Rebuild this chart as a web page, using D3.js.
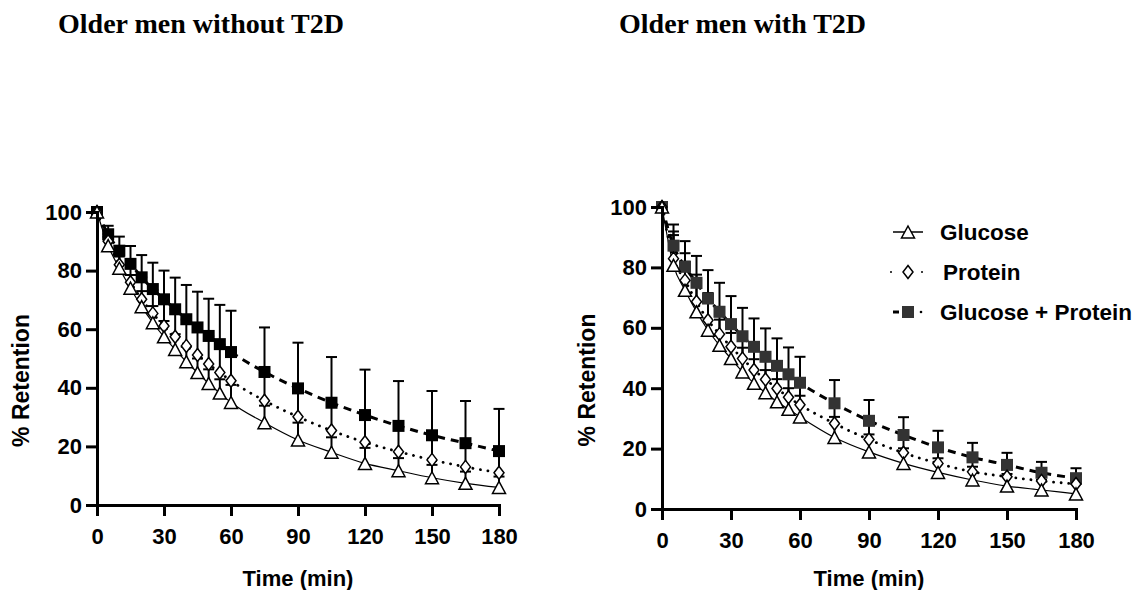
<!DOCTYPE html>
<html>
<head>
<meta charset="utf-8">
<script src="https://cdn.jsdelivr.net/npm/d3@7"></script>
<style>
  body { margin: 0; background: #fff; }
  svg { display: block; }
  .axis path, .axis line { stroke: #000; stroke-width: 3; }
  .axis text { font-family: "Liberation Sans", Arial, sans-serif; font-weight: bold; font-size: 22px; fill: #000; }
</style>
</head>
<body>
<div id="chart"></div>
<script>
'use strict';

// sampling times (min)
const times = [0, 5, 10, 15, 20, 25, 30, 35, 40, 45, 50, 55, 60, 75, 90, 105, 120, 135, 150, 165, 180];
const xTicks = [0, 30, 60, 90, 120, 150, 180];
const yTicks = [0, 20, 40, 60, 80, 100];
const seriesNames = ['Glucose', 'Protein', 'Glucose + Protein'];

// older men without T2D
const noT2dGlucose = [100, 88.5, 80.8, 74, 67.7, 62.2, 57.4, 53.1, 48.9, 45.2, 41.5, 38.2, 35, 28.1, 22.2, 18.0, 14.2, 11.7, 9.3, 7.4, 6.0];
const noT2dGlucoseSd = [0, 3, 4, 4.5, 5.3, 5.7, 5.4, 5.2, 5.1, 4.8, 4.8, 4.7, 6, 5.8, 5.9, 5.1, 5.3, 4.3, 4.4, 4.0, 3.7];
const noT2dProtein = [100, 90, 82, 76, 70.2, 65.4, 61.1, 57.4, 54.3, 51.2, 48.1, 45.2, 42.4, 35.6, 30.1, 25.4, 21.4, 18.2, 15.4, 13.0, 11.0];
const noT2dProteinSd = [0, 2.5, 4.5, 6, 7.5, 8, 9, 9.5, 9, 9.5, 9.5, 9.5, 9.5, 9.8, 9.7, 9.5, 9.3, 8.8, 8.4, 8.1, 7.4];
const noT2dBoth = [100, 92.4, 86.8, 82.3, 77.7, 73.7, 70.2, 66.8, 63.4, 60.6, 57.7, 54.9, 52.2, 45.4, 39.8, 34.9, 30.7, 27.0, 23.8, 21.1, 18.4];
const noT2dBothSd = [0, 2.9, 4.8, 6.1, 7.6, 9.0, 9.8, 10.8, 11.7, 12.2, 12.7, 13.4, 14.1, 15.2, 15.6, 15.6, 15.5, 15.3, 15.1, 14.4, 14.4];

// older men with T2D
const t2dGlucose = [100, 80.7, 72.4, 65.3, 59.2, 54.2, 49.8, 45.4, 41.6, 38.5, 35.5, 33, 30.5, 23.7, 18.9, 15.1, 12.1, 9.6, 7.6, 6.3, 5.0];
const t2dGlucoseSd = [0, 10, 9.5, 9.5, 9, 8.5, 8.5, 8, 8, 7.5, 7.5, 7, 7, 6.8, 5.8, 5.0, 4.7, 4.4, 4.0, 3.3, 3.3];
const t2dProtein = [100, 82.9, 75.7, 68.6, 62.5, 57.9, 53.7, 49.8, 46.0, 42.9, 39.9, 37, 34.5, 28.3, 23.0, 18.6, 15.1, 12.3, 10.7, 9.3, 8.3];
const t2dProteinSd = [0, 9, 9, 9, 9, 9, 9, 8.5, 8, 7.5, 7, 7, 6.5, 5.5, 5, 4.5, 4, 3.5, 3, 3, 2.5];
const t2dBoth = [100, 87.2, 80.2, 74.9, 69.7, 65.3, 61.2, 57.2, 53.7, 50.4, 47.4, 44.6, 41.8, 35.0, 29.2, 24.5, 20.4, 17.1, 14.6, 12.0, 10.2];
const t2dBothSd = [0, 7.0, 8.5, 8.9, 9.4, 9.6, 9.3, 9.4, 9.4, 9.4, 9.1, 8.9, 8.6, 7.7, 6.9, 5.9, 5.5, 4.8, 4.0, 3.6, 3.3];

const width = 1138, height = 590;
const svg = d3.select('#chart').append('svg').attr('width', width).attr('height', height);

const lineStyles = [
  { width: 1.2, dash: null, cap: 'butt' },
  { width: 2.8, dash: '0.1,7.5', cap: 'round' },
  { width: 3, dash: '8,6', cap: 'butt' },
];

function marker(g, kind, x, y, fill) {
  if (kind === 0) {
    g.append('path').attr('d', 'M0,-7L6.5,5L-6.5,5Z')
      .attr('transform', 'translate(' + x + ',' + (y + 1) + ')')
      .attr('fill', '#fff').attr('stroke', '#000').attr('stroke-width', 1.5);
  } else if (kind === 1) {
    g.append('path').attr('d', 'M0,-6.5L5,0L0,6.5L-5,0Z')
      .attr('transform', 'translate(' + x + ',' + y + ')')
      .attr('fill', '#fff').attr('stroke', '#000').attr('stroke-width', 1.5);
  } else {
    g.append('rect').attr('x', x - 6).attr('y', y - 6).attr('width', 12).attr('height', 12)
      .attr('fill', fill);
  }
}

function drawPanel(p) {
  const x = d3.scaleLinear().domain([0, 180]).range(p.xRange);
  const y = d3.scaleLinear().domain([0, 100]).range(p.yRange);
  const g = svg.append('g');

  g.append('text').attr('x', p.titleX).attr('y', 33)
    .style('font-family', '"Liberation Serif", "Times New Roman", serif')
    .style('font-weight', 'bold').style('font-size', '28px')
    .text(p.title);

  const series = [
    { mean: p.glucose, sd: p.glucoseSd },
    { mean: p.protein, sd: p.proteinSd },
    { mean: p.both, sd: p.bothSd },
  ];

  // error bars (upper only)
  series.forEach((s) => {
    times.forEach((t, i) => {
      if (!s.sd[i]) return;
      const cx = x(t), y0 = y(s.mean[i]), y1 = y(s.mean[i] + s.sd[i]);
      g.append('line').attr('x1', cx).attr('x2', cx).attr('y1', y0).attr('y2', y1)
        .attr('stroke', '#000').attr('stroke-width', 2);
      g.append('line').attr('x1', cx - 5.5).attr('x2', cx + 5.5).attr('y1', y1).attr('y2', y1)
        .attr('stroke', '#000').attr('stroke-width', 2);
    });
  });

  // lines
  const line = d3.line().x((d) => x(d[0])).y((d) => y(d[1])).curve(d3.curveMonotoneX);
  series.forEach((s, k) => {
    g.append('path').datum(times.map((t, i) => [t, s.mean[i]]))
      .attr('d', line).attr('fill', 'none').attr('stroke', '#000')
      .attr('stroke-width', lineStyles[k].width)
      .attr('stroke-dasharray', lineStyles[k].dash)
      .attr('stroke-linecap', lineStyles[k].cap);
  });

  // markers: squares at the bottom, triangles on top
  [2, 1, 0].forEach((k) => {
    times.forEach((t, i) => marker(g, k, x(t), y(series[k].mean[i]), p.squareFill));
  });

  // axes
  const xAxis = g.append('g').attr('class', 'axis')
    .attr('transform', 'translate(0,' + p.yRange[0] + ')')
    .call(d3.axisBottom(x).tickValues(xTicks).tickSize(11).tickSizeOuter(0).tickPadding(12));
  const yAxis = g.append('g').attr('class', 'axis')
    .attr('transform', 'translate(' + p.xRange[0] + ',0)')
    .call(d3.axisLeft(y).tickValues(yTicks).tickSize(11).tickSizeOuter(0).tickPadding(4));
  xAxis.select('.domain').attr('stroke-linecap', 'square');
  yAxis.select('.domain').attr('stroke-linecap', 'square');

  g.append('text')
    .attr('transform', 'translate(' + p.yLabelX + ',' + ((p.yRange[0] + p.yRange[1]) / 2 + 22) + ') rotate(-90)')
    .attr('text-anchor', 'middle')
    .style('font-family', '"Liberation Sans", Arial, sans-serif')
    .style('font-weight', 'bold').style('font-size', '23px')
    .text('% Retention');

  g.append('text')
    .attr('x', (p.xRange[0] + p.xRange[1]) / 2).attr('y', 586)
    .attr('text-anchor', 'middle')
    .style('font-family', '"Liberation Sans", Arial, sans-serif')
    .style('font-weight', 'bold').style('font-size', '22px')
    .text('Time (min)');
}

drawPanel({
  title: 'Older men without T2D', titleX: 58,
  xRange: [97, 499], yRange: [505, 212], yLabelX: 29,
  glucose: noT2dGlucose, glucoseSd: noT2dGlucoseSd,
  protein: noT2dProtein, proteinSd: noT2dProteinSd,
  both: noT2dBoth, bothSd: noT2dBothSd,
  squareFill: '#000',
});

drawPanel({
  title: 'Older men with T2D', titleX: 619,
  xRange: [662, 1076], yRange: [509, 207], yLabelX: 595,
  glucose: t2dGlucose, glucoseSd: t2dGlucoseSd,
  protein: t2dProtein, proteinSd: t2dProteinSd,
  both: t2dBoth, bothSd: t2dBothSd,
  squareFill: '#333',
});

// legend
const legend = svg.append('g');
seriesNames.forEach((name, k) => {
  const ly = [232, 272, 312][k];
  const row = legend.append('g');
  if (k === 0) {
    row.append('line').attr('x1', 893).attr('x2', 923).attr('y1', ly).attr('y2', ly)
      .attr('stroke', '#000').attr('stroke-width', 1.5);
  } else if (k === 1) {
    [891, 922].forEach((dx) => row.append('circle').attr('cx', dx).attr('cy', ly).attr('r', 1).attr('fill', '#000'));
  } else {
    row.append('line').attr('x1', 893).attr('x2', 899).attr('y1', ly).attr('y2', ly)
      .attr('stroke', '#000').attr('stroke-width', 3);
    row.append('circle').attr('cx', 921).attr('cy', ly).attr('r', 1.3).attr('fill', '#000');
  }
  marker(row, k, 908, ly, '#333');
  row.append('text').attr('x', k === 1 ? 943 : 940).attr('y', ly + 8)
    .style('font-family', '"Liberation Sans", Arial, sans-serif')
    .style('font-weight', 'bold').style('font-size', '22.5px')
    .text(name);
});
</script>
</body>
</html>
